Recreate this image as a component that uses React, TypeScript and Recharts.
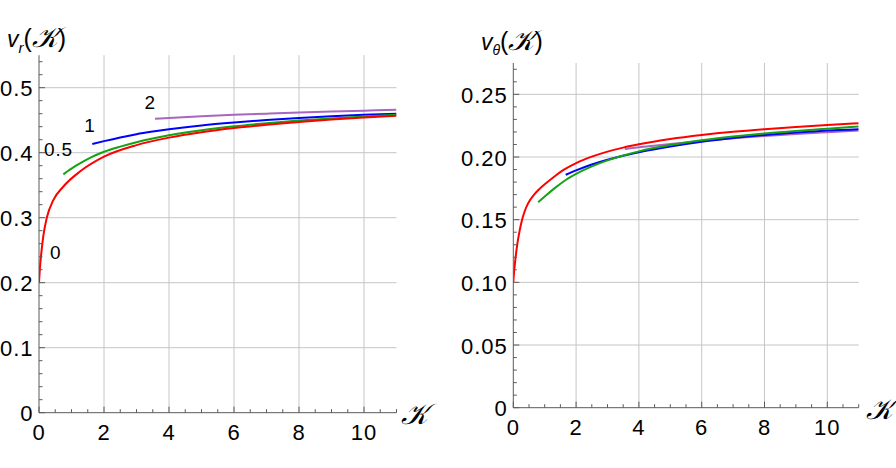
import React from 'react';
import { LineChart, Line, XAxis, YAxis, ReferenceLine, ReferenceDot } from 'recharts';

// ---------- data: left panel v_r(K) ----------
const K_R0 = [0, 0.03, 0.07, 0.13, 0.24, 0.44, 0.75, 1.26, 2, 3, 4, 5, 6, 7, 8, 9, 10, 11];
const VR_0 = [0.2, 0.224, 0.245, 0.271, 0.3, 0.327, 0.348, 0.371, 0.3939, 0.4117, 0.4232, 0.4315, 0.4379, 0.443, 0.4474, 0.451, 0.4541, 0.457];
const K_R05 = [0.75, 0.9, 1.0, 1.3, 1.6, 2, 2.5, 3, 3.5, 4, 5, 6, 7, 8, 9, 10, 11];
const VR_05 = [0.3667, 0.3722, 0.3756, 0.3846, 0.3927, 0.4014, 0.4094, 0.4162, 0.4219, 0.4267, 0.4345, 0.4406, 0.4454, 0.4495, 0.4528, 0.4556, 0.4582];
const K_R1 = [1.64, 2, 2.5, 3, 3.5, 4, 5, 6, 7, 8, 9, 10, 11];
const VR_1 = [0.4134, 0.4178, 0.4235, 0.4285, 0.4325, 0.436, 0.442, 0.4465, 0.4502, 0.4533, 0.456, 0.4582, 0.46];
const K_R2 = [3.57, 4, 5, 6, 7, 8, 9, 10, 11];
const VR_2 = [0.4523, 0.4535, 0.456, 0.4582, 0.4601, 0.4618, 0.4633, 0.4647, 0.466];

// ---------- data: right panel v_theta(K) ----------
const K_T0 = [0, 0.02, 0.05, 0.09, 0.14, 0.2, 0.27, 0.36, 0.47, 0.65, 0.8, 1.0, 1.3, 1.6, 2, 2.5, 3, 3.5, 4, 5, 6, 7, 8, 9, 10, 11];
const VT_0 = [0.1, 0.107, 0.1145, 0.1235, 0.1325, 0.141, 0.149, 0.1565, 0.163, 0.1696, 0.1737, 0.1782, 0.1843, 0.1897, 0.1952, 0.2003, 0.2043, 0.2075, 0.2101, 0.2143, 0.2175, 0.2201, 0.2222, 0.224, 0.2256, 0.227];
const K_T05 = [0.79, 1.0, 1.3, 1.6, 2, 2.5, 3, 3.5, 4, 5, 6, 7, 8, 9, 10, 11];
const VT_05 = [0.164, 0.1685, 0.1748, 0.1805, 0.1865, 0.1925, 0.1973, 0.2012, 0.2045, 0.2095, 0.2133, 0.2163, 0.2188, 0.2208, 0.2226, 0.2243];
const K_T1 = [1.67, 2, 2.5, 3, 3.5, 4, 5, 6, 7, 8, 9, 10, 11];
const VT_1 = [0.1858, 0.1893, 0.194, 0.1978, 0.201, 0.2037, 0.2083, 0.2121, 0.2151, 0.2175, 0.2195, 0.2211, 0.2222];
const K_T2 = [3.55, 4, 5, 6, 7, 8, 9, 10, 11];
const VT_2 = [0.2064, 0.2077, 0.2103, 0.2127, 0.2149, 0.2168, 0.2184, 0.2198, 0.2211];

// ---------- ticks ----------
const X_TICKS = [0, 0.5, 1, 1.5, 2, 2.5, 3, 3.5, 4, 4.5, 5, 5.5, 6, 6.5, 7, 7.5, 8, 8.5, 9, 9.5, 10, 10.5, 11];
const X_MAJOR = [0, 2, 4, 6, 8, 10];
const X_LABELS = ['0', '2', '4', '6', '8', '10'];

const YL_TICKS = [0, 0.02, 0.04, 0.06, 0.08, 0.1, 0.12, 0.14, 0.16, 0.18, 0.2, 0.22, 0.24, 0.26, 0.28, 0.3, 0.32, 0.34, 0.36, 0.38, 0.4, 0.42, 0.44, 0.46, 0.48, 0.5, 0.52, 0.54];
const YL_MAJOR = [0, 0.1, 0.2, 0.3, 0.4, 0.5];
const YL_LABELS = ['0', '0.1', '0.2', '0.3', '0.4', '0.5'];

const YR_TICKS = [0, 0.01, 0.02, 0.03, 0.04, 0.05, 0.06, 0.07, 0.08, 0.09, 0.1, 0.11, 0.12, 0.13, 0.14, 0.15, 0.16, 0.17, 0.18, 0.19, 0.2, 0.21, 0.22, 0.23, 0.24, 0.25, 0.26, 0.27];
const YR_MAJOR = [0, 0.05, 0.1, 0.15, 0.2, 0.25];
const YR_LABELS = ['0', '0.05', '0.10', '0.15', '0.20', '0.25'];

// curve labels (left panel), in data coordinates
const CURVE_LABELS = ['2', '1', '0.5', '0'];
const CURVE_LABEL_K = [3.42, 1.57, 0.6, 0.51];
const CURVE_LABEL_V = [0.478, 0.442, 0.406, 0.247];

const COLORS = ['#ff0000', '#13a313', '#0000ff', '#a966be'];

const zip = (ks: number[], vs: number[]) => ks.map((k, i) => ({ k, v: vs[i] }));

const AXIS = '#5a5a5a';
const GRID = '#c6c6c6';
const FONT = '"Liberation Sans", Arial, Helvetica, sans-serif';

const findIdx = (arr: number[], v: number) => arr.findIndex((m) => Math.abs(m - v) < 1e-9);

const makeXTick = () => (props: any) => {
  const { x, y, payload } = props;
  const idx = findIdx(X_MAJOR, payload.value);
  const major = idx >= 0;
  return (
    <g>
      <line x1={x} y1={y} x2={x} y2={y - (major ? 6 : 3.5)} stroke={AXIS} strokeWidth={1} />
      {major && (
        <text x={x} y={y + 27} textAnchor="middle" fontFamily={FONT} fontSize={22} letterSpacing={1} fill="#000">
          {X_LABELS[idx]}
        </text>
      )}
    </g>
  );
};

const makeYTick = (majors: number[], labels: string[]) => (props: any) => {
  const { x, y, payload } = props;
  const idx = findIdx(majors, payload.value);
  const major = idx >= 0;
  return (
    <g>
      <line x1={x} y1={y} x2={x + (major ? 6 : 3.5)} y2={y} stroke={AXIS} strokeWidth={1} />
      {major && (
        <text x={x - 5.5} y={y + 8.5} textAnchor="end" fontFamily={FONT} fontSize={22} letterSpacing={1} fill="#000">
          {labels[idx]}
        </text>
      )}
    </g>
  );
};

const LabelShape = (text: string) => (props: any) => (
  <text x={props.cx} y={props.cy + 7} textAnchor="middle" fontFamily={FONT} fontSize={19} letterSpacing={0.8} fill="#000">
    {text}
  </text>
);

const leftSeries = [zip(K_R0, VR_0), zip(K_R05, VR_05), zip(K_R1, VR_1), zip(K_R2, VR_2)];
const rightSeries = [zip(K_T0, VT_0), zip(K_T05, VT_05), zip(K_T1, VT_1), zip(K_T2, VT_2)];

function Panel(props: {
  width: number;
  height: number;
  margin: any;
  yWidth: number;
  xHeight: number;
  yDomain: [number, number];
  yTicks: number[];
  yMajor: number[];
  yLabels: string[];
  series: { k: number; v: number }[][];
  withLabels: boolean;
}) {
  const { width, height, margin, yWidth, xHeight, yDomain, yTicks, yMajor, yLabels, series, withLabels } = props;
  return (
    <LineChart width={width} height={height} margin={margin}>
      <XAxis
        type="number"
        dataKey="k"
        domain={[0, 11]}
        ticks={X_TICKS}
        interval={0}
        tickSize={0}
        tickMargin={0}
        tickLine={false}
        axisLine={{ stroke: AXIS, strokeWidth: 1 }}
        tick={makeXTick()}
        height={xHeight}
        allowDataOverflow
      />
      <YAxis
        type="number"
        domain={yDomain}
        ticks={yTicks}
        interval={0}
        tickSize={0}
        tickMargin={0}
        tickLine={false}
        axisLine={{ stroke: AXIS, strokeWidth: 1 }}
        tick={makeYTick(yMajor, yLabels)}
        width={yWidth}
        allowDataOverflow
      />
      {X_MAJOR.filter((v) => v > 0).map((v) => (
        <ReferenceLine key={'gx' + v} x={v} stroke={GRID} strokeWidth={1} />
      ))}
      {yMajor.filter((v) => v > 0).map((v) => (
        <ReferenceLine key={'gy' + v} y={v} stroke={GRID} strokeWidth={1} />
      ))}
      {series.map((d, i) => (
        <Line
          key={'s' + i}
          data={d}
          dataKey="v"
          type="monotone"
          stroke={COLORS[i]}
          strokeWidth={2}
          dot={false}
          activeDot={false}
          isAnimationActive={false}
        />
      )).reverse()}
      {withLabels &&
        CURVE_LABELS.map((t, i) => (
          <ReferenceDot key={'l' + i} x={CURVE_LABEL_K[i]} y={CURVE_LABEL_V[i]} r={0} shape={LabelShape(t)} />
        ))}
    </LineChart>
  );
}

export default function App() {
  return (
    <div style={{ position: 'absolute', left: 0, top: 0, width: 896, height: 468, background: '#fff' }}>
      <div style={{ position: 'absolute', left: 0, top: 0 }}>
        <Panel
          width={450}
          height={468}
          margin={{ top: 55.2, right: 53.5, bottom: 0, left: 0 }}
          yWidth={39}
          xHeight={55.3}
          yDomain={[0, 0.55]}
          yTicks={YL_TICKS}
          yMajor={YL_MAJOR}
          yLabels={YL_LABELS}
          series={leftSeries}
          withLabels
        />
      </div>
      <div style={{ position: 'absolute', left: 450, top: 0 }}>
        <Panel
          width={446}
          height={468}
          margin={{ top: 63, right: 37.3, bottom: 0, left: 0 }}
          yWidth={63.3}
          xHeight={60.3}
          yDomain={[0, 0.275]}
          yTicks={YR_TICKS}
          yMajor={YR_MAJOR}
          yLabels={YR_LABELS}
          series={rightSeries}
          withLabels={false}
        />
      </div>
      <svg width={896} height={468} style={{ position: 'absolute', left: 0, top: 0, pointerEvents: 'none' }}>
        <text x={7} y={46.5} fontFamily={FONT} fill="#000">
          <tspan fontStyle="italic" fontSize={23}>v</tspan>
          <tspan fontStyle="italic" fontSize={15} dy={6}>r</tspan>
          <tspan fontSize={25} dy={-6}>(</tspan>
          <tspan fontSize={28} fontFamily='"DejaVu Serif", serif' fontStyle="italic">𝒦</tspan>
          <tspan fontSize={25}>)</tspan>
        </text>
        <text x={481} y={50} fontFamily={FONT} fill="#000">
          <tspan fontStyle="italic" fontSize={23}>v</tspan>
          <tspan fontStyle="italic" fontSize={14} dy={5}>θ</tspan>
          <tspan fontSize={25} dy={-5}>(</tspan>
          <tspan fontSize={28} fontFamily='"DejaVu Serif", serif' fontStyle="italic">𝒦</tspan>
          <tspan fontSize={25}>)</tspan>
        </text>
        <text x={401} y={424} fontSize={29} fontFamily='"DejaVu Serif", serif' fontStyle="italic" fill="#000">𝒦</text>
        <text x={866} y={419} fontSize={29} fontFamily='"DejaVu Serif", serif' fontStyle="italic" fill="#000">𝒦</text>
      </svg>
    </div>
  );
}
